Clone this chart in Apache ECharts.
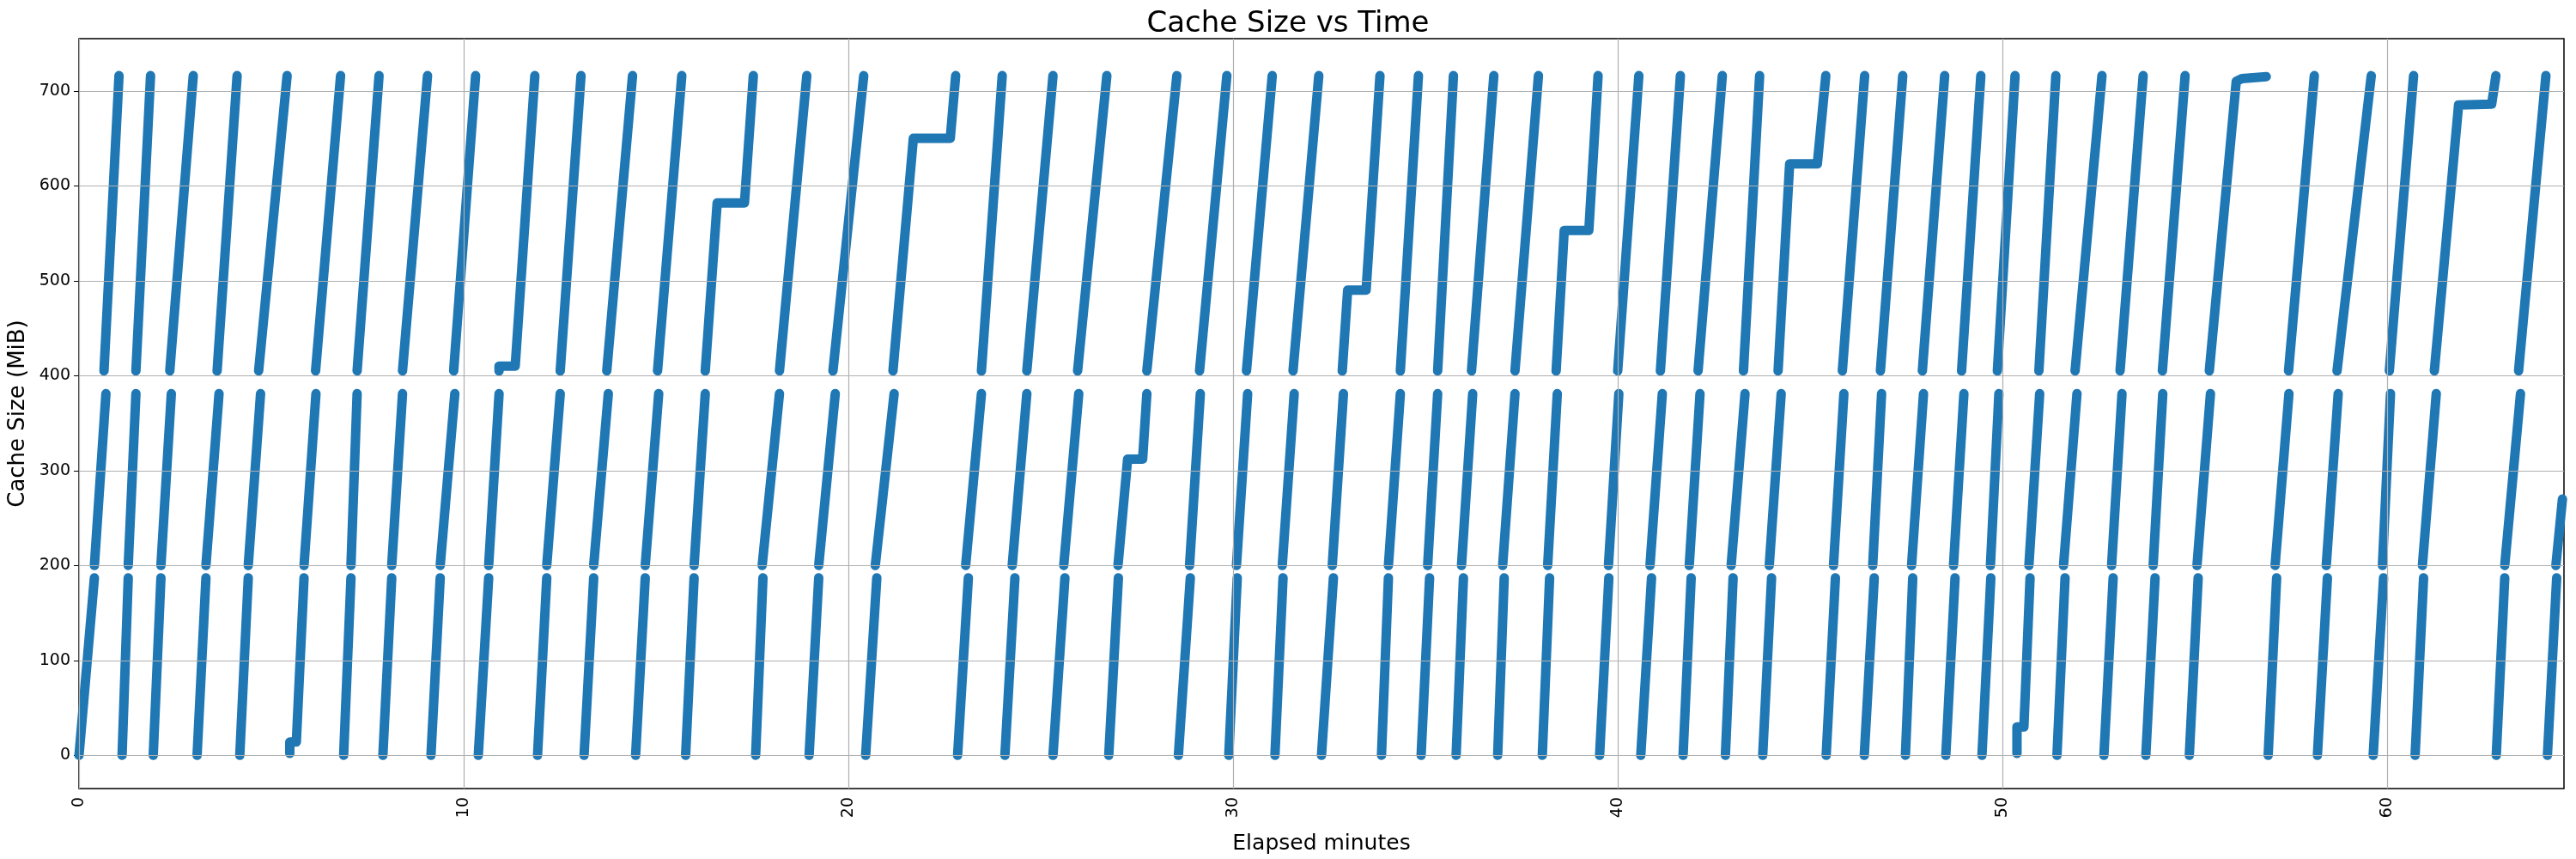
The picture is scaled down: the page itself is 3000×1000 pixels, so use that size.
<!DOCTYPE html>
<html><head><meta charset="utf-8">
<script src="https://cdn.jsdelivr.net/npm/echarts@6/dist/echarts.min.js"></script>
<style>html,body{margin:0;padding:0;background:#fff}#c{width:3000px;height:1000px}</style>
</head><body><div id="c"></div>
<script>
// Ramp start/end times (minutes) per band
const lowBand = [0, 187];
const midBand = [200, 381];
const highBand = [405, 716];
const lowRamps = [[0,0.40],[1.12,1.28],[1.93,2.13],[3.07,3.30],[4.18,4.40],[6.88,7.07],[7.90,8.13],[9.15,9.39],[10.38,10.65],[11.92,12.16],[13.13,13.38],[14.47,14.72],[15.77,15.99],[17.59,17.78],[18.98,19.23],[20.45,20.74],[22.84,23.12],[24.07,24.33],[25.32,25.63],[26.77,27.02],[28.58,28.89],[29.89,30.11],[31.09,31.30],[32.30,32.61],[33.86,34.04],[34.89,35.11],[35.80,35.99],[36.88,37.05],[38.04,38.23],[39.53,39.77],[40.60,40.88],[41.70,41.91],[42.80,43.00],[43.77,44.00],[45.42,45.66],[46.41,46.67],[47.48,47.67],[48.53,48.77],[49.47,49.70],[51.42,51.63],[52.64,52.88],[53.73,53.97],[54.86,55.09],[56.91,57.13],[58.19,58.45],[59.64,59.91],[60.73,60.95],[62.84,63.06],[64.17,64.41]];
const midRamps = [[0.40,0.70],[1.28,1.48],[2.13,2.40],[3.30,3.64],[4.40,4.72],[5.85,6.16],[7.07,7.23],[8.13,8.41],[9.39,9.77],[10.65,10.92],[12.16,12.51],[13.38,13.76],[14.72,15.07],[15.99,16.28],[17.76,18.21],[19.23,19.66],[20.70,21.19],[23.05,23.46],[24.26,24.64],[25.60,25.99],[28.87,29.15],[30.09,30.38],[31.28,31.59],[32.58,32.87],[34.04,34.35],[35.06,35.32],[35.94,36.23],[37.01,37.33],[38.18,38.43],[39.76,40.03],[40.84,41.16],[41.86,42.14],[42.95,43.31],[43.94,44.25],[45.61,45.88],[46.63,46.86],[47.64,47.95],[48.73,49.00],[49.69,49.91],[50.69,50.97],[51.59,51.94],[52.84,53.11],[53.92,54.17],[55.06,55.41],[57.09,57.45],[58.42,58.73],[59.88,60.09],[60.92,61.28],[63.06,63.47]];
const highRamps = [[0.65,1.04],[1.48,1.86],[2.36,2.97],[3.59,4.11],[4.67,5.41],[6.15,6.80],[7.23,7.80],[8.41,9.06],[9.74,10.31],[12.51,13.05],[13.72,14.39],[15.04,15.67],[18.21,18.92],[19.60,20.40],[23.46,24.00],[24.64,25.32],[25.96,26.72],[27.76,28.54],[29.13,29.84],[30.35,31.02],[31.56,32.23],[34.35,34.82],[35.32,35.73],[36.20,36.78],[37.33,37.94],[40.00,40.55],[41.11,41.63],[42.09,42.72],[43.27,43.69],[45.84,46.42],[46.83,47.41],[47.92,48.50],[48.94,49.44],[49.87,50.33],[50.95,51.39],[51.89,52.59],[53.06,53.66],[54.16,54.75],[57.44,58.11],[58.70,59.59],[60.06,60.69],[63.42,64.13]];
// Ramps with plateaus, as [minute, MiB] points
const stepped = [
 [[5.48,2],[5.48,14],[5.65,14],[5.85,187]],
 [[50.38,2],[50.38,30],[50.56,30],[50.72,187]],
 [[27.01,200],[27.26,312],[27.65,312],[27.76,381]],
 [[64.39,200],[64.56,270]],
 [[10.92,405],[10.92,410],[11.34,410],[11.85,716]],
 [[16.28,405],[16.59,582],[17.30,582],[17.53,716]],
 [[21.16,405],[21.69,650],[22.65,650],[22.79,716]],
 [[32.84,405],[32.98,490],[33.46,490],[33.82,716]],
 [[38.40,405],[38.61,553],[39.25,553],[39.49,716]],
 [[44.17,405],[44.47,623],[45.19,623],[45.41,716]],
 [[55.38,405],[56.08,710],[56.23,713],[56.86,715]],
 [[61.23,405],[61.86,685],[62.72,686],[62.83,716]]
];
const yTicks = [0,100,200,300,400,500,600,700];
const xTicks = [0,10,20,30,40,50,60];

const C = '#1f77b4';
const series = [];
function add(pts){
  series.push({type:'line',data:pts,showSymbol:false,silent:true,animation:false,
    lineStyle:{color:C,width:11,cap:'round',join:'round'}});
}
[[lowRamps,lowBand],[midRamps,midBand],[highRamps,highBand]].forEach(([r,b])=>{
  r.forEach(([a,e])=>add([[a,b[0]],[e,b[1]]]));
});
stepped.forEach(add);
series.unshift({type:'line',data:[],silent:true,animation:false,
  markLine:{symbol:'none',silent:true,label:{show:false},animation:false,
   lineStyle:{color:'#b0b0b0',width:1.2,type:'solid'},
   data:[...yTicks.map(v=>({yAxis:v})),...xTicks.map(v=>({xAxis:v}))]}});

const chart = echarts.init(document.getElementById('c'));
chart.setOption({
  backgroundColor:'#fff',
  title:{text:'Cache Size vs Time',left:'center',top:6,textStyle:{fontFamily:'DejaVu Sans',fontSize:34,fontWeight:'normal',color:'#000'}},
  grid:{left:85,right:14,top:45,bottom:75,show:true,borderColor:'#000',borderWidth:1.5},
  xAxis:{type:'value',min:0,max:64.6,interval:10,name:'Elapsed minutes',nameLocation:'middle',nameGap:52,
    nameTextStyle:{fontFamily:'DejaVu Sans',fontSize:25,color:'#000'},
    axisLine:{show:false},splitLine:{show:false},
    axisTick:{show:true,length:6,lineStyle:{color:'#000'}},
    axisLabel:{rotate:90,showMaxLabel:false,fontFamily:'DejaVu Sans',fontSize:19,color:'#000',margin:10}},
  yAxis:{type:'value',min:-35,max:755,name:'Cache Size (MiB)',nameLocation:'middle',nameGap:58,
    nameTextStyle:{fontFamily:'DejaVu Sans',fontSize:26,color:'#000'},
    axisLine:{show:false},splitLine:{show:false},
    axisTick:{show:true,length:6,lineStyle:{color:'#000'},customValues:yTicks},
    axisLabel:{fontFamily:'DejaVu Sans',fontSize:19,color:'#000',customValues:yTicks,margin:10}},
  series
});
</script></body></html>
